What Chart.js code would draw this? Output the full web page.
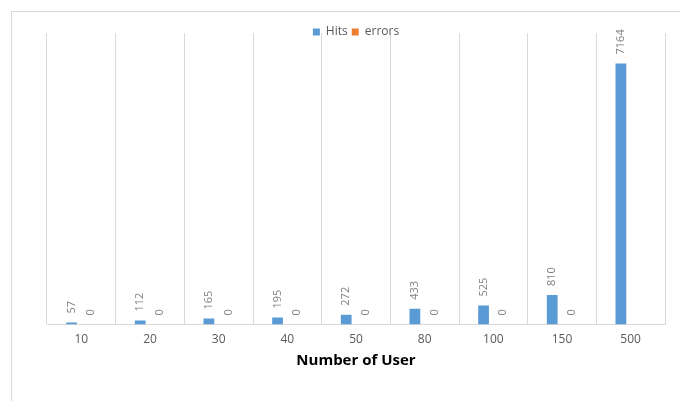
<!DOCTYPE html>
<html>
<head>
<meta charset="utf-8">
<script src="https://cdn.jsdelivr.net/npm/chart.js@4.4.1/dist/chart.umd.min.js"></script>
<style>
  html, body { margin: 0; padding: 0; background: #fff; }
  #wrap { position: relative; width: 680px; height: 401px; }
  #frame { position: absolute; left: 11px; top: 11px; right: 0; bottom: 0;
           border-left: 1px solid #d9d9d9; border-top: 1px solid #d9d9d9; }
  canvas { position: absolute; left: 0; top: 0; }
</style>
</head>
<body>
<div id="wrap">
  <div id="frame"></div>
  <canvas id="usersChart" width="680" height="401"></canvas>
</div>
<script>
const users = ['10', '20', '30', '40', '50', '80', '100', '150', '500'];
const hits = [57, 112, 165, 195, 272, 433, 525, 810, 7164];
const errors = [0, 0, 0, 0, 0, 0, 0, 0, null];

// vertical value labels above each bar
const barLabels = {
  id: 'barLabels',
  afterDatasetsDraw(chart) {
    const ctx = chart.ctx;
    chart.data.datasets.forEach((ds, i) => {
      const meta = chart.getDatasetMeta(i);
      meta.data.forEach((bar, j) => {
        if (ds.data[j] == null) return;
        ctx.save();
        ctx.translate(bar.x, bar.y - 9);
        ctx.rotate(-Math.PI / 2);
        ctx.font = '11px "Open Sans", sans-serif';
        ctx.fillStyle = '#808080';
        ctx.textAlign = 'left';
        ctx.textBaseline = 'middle';
        ctx.fillText(String(ds.data[j]), 0, 0);
        ctx.restore();
      });
    });
  }
};

// let the legend sit over the top of the plot area, like the original
const tightLegend = {
  id: 'tightLegend',
  beforeLayout(chart) {
    const lg = chart.legend;
    if (lg && !lg._tight) {
      const fit = lg.fit.bind(lg);
      lg.fit = function () { fit(); this.height = 11; };
      lg.draw = function () { if (this.options.display) this._draw(); };
      lg._tight = true;
    }
  }
};

new Chart('usersChart', {
  type: 'bar',
  data: {
    labels: users,
    datasets: [
      { label: 'Hits', data: hits, backgroundColor: '#5b9bd5' },
      { label: 'errors', data: errors, backgroundColor: '#ed7d31' },
    ],
  },
  options: {
    responsive: false,
    animation: false,
    layout: { padding: { left: 47, right: 15, top: 22, bottom: 31 } },
    categoryPercentage: 0.57,
    barPercentage: 0.55,
    plugins: {
      legend: {
        position: 'top',
        labels: {
          boxWidth: 7,
          boxHeight: 7,
          padding: 4,
          color: '#595959',
          font: { family: 'Open Sans', size: 12 },
        },
      },
      tooltip: { enabled: false },
    },
    scales: {
      x: {
        grid: { color: '#d9d9d9', drawTicks: false, offset: true },
        border: { color: '#d9d9d9' },
        ticks: { color: '#595959', padding: 8, font: { family: 'Open Sans', size: 12 } },
        title: {
          display: true,
          text: 'Number of User',
          color: '#000',
          padding: { top: -3, bottom: 0 },
          font: { family: 'Open Sans', size: 15, weight: 'bold' },
        },
      },
      y: { display: false, min: 0, max: 8000 },
    },
  },
  plugins: [barLabels, tightLegend],
});
</script>
</body>
</html>
